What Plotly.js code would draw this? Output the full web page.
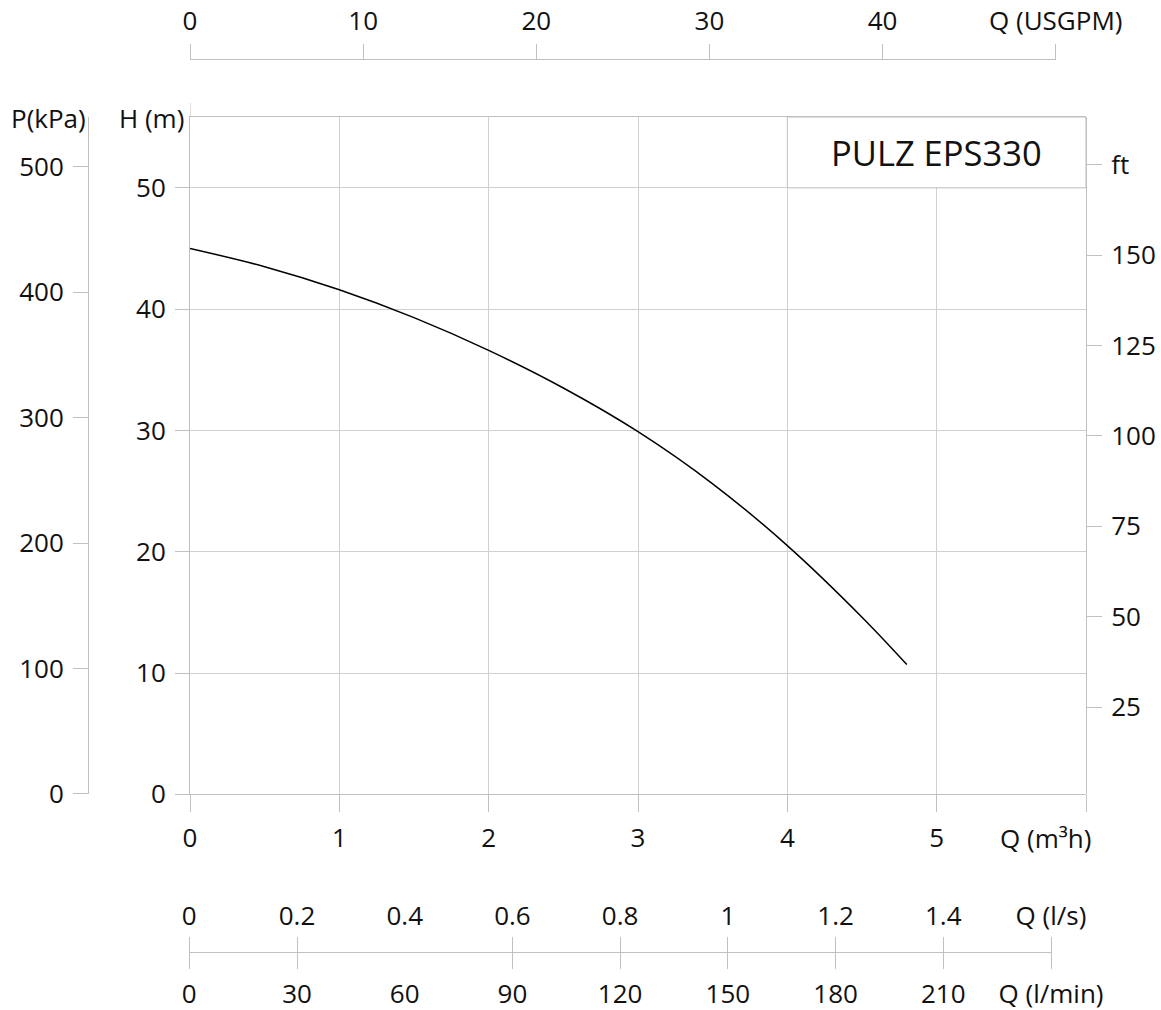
<!DOCTYPE html>
<html><head><meta charset="utf-8">
<script src="https://cdn.plot.ly/plotly-3.0.1.min.js"></script>
<style>html,body{margin:0;padding:0;background:#fff}#chart{width:1161px;height:1010px}</style>
</head><body><div id="chart"></div>
<script>
// ---- data ----
const flowM3h = [0, 0.5, 1, 1.5, 2, 2.5, 3, 3.5, 4, 4.5, 4.8];
const headM   = [45.0, 43.5, 41.6, 39.3, 36.6, 33.5, 29.9, 25.6, 20.5, 14.6, 10.7];
const m3hTicks = [0, 1, 2, 3, 4, 5, 6];
const m3hLabels = ['0', '1', '2', '3', '4', '5', ''];
const headTicks = [0, 10, 20, 30, 40, 50];
const kpaTicks = [0, 100, 200, 300, 400, 500];
const ftTicks = [25, 50, 75, 100, 125, 150, 175];
const ftLabels = ['25', '50', '75', '100', '125', '150', 'ft'];
const usgpmTicks = [0, 10, 20, 30, 40, 50];
const usgpmLabels = ['0', '10', '20', '30', '40', 'Q (USGPM)'];
const lminTicks = [0, 30, 60, 90, 120, 150, 180, 210, 240];
const lminLabels = ['0', '30', '60', '90', '120', '150', '180', '210', 'Q (l/min)'];
const lminMarks = [0, 30, 90, 120, 150, 180, 210, 240];
const lsTicks = [0, 0.2, 0.4, 0.6, 0.8, 1.0, 1.2, 1.4, 1.6];
const lsLabels = ['0', '0.2', '0.4', '0.6', '0.8', '1', '1.2', '1.4', 'Q (l/s)'];
const modelName = 'PULZ EPS330';

// ---- geometry helpers ----
const W = 1161, H = 1010;
const px = v => v / W;
const py = v => (H - v) / H;
const GRID = '#d0d0d0', LINE = '#c0c0c0', TXT = '#111111';
const FONT = 'Open Sans, sans-serif';
const yDom = [py(794.3), py(117)];
const hTop = 55.84;

const base = {showgrid: false, zeroline: false, fixedrange: true, linecolor: LINE, tickcolor: LINE, tickwidth: 1, linewidth: 1};

const layout = {
  width: W, height: H,
  margin: {l: 0, r: 0, t: 0, b: 0},
  paper_bgcolor: '#ffffff', plot_bgcolor: 'rgba(0,0,0,0)',
  showlegend: false, hovermode: false,
  font: {family: FONT, size: 26, color: TXT},
  xaxis: Object.assign({}, base, {
    domain: [px(190), px(1086)], range: [0, 6], anchor: 'y',
    tickmode: 'array', tickvals: m3hTicks, ticktext: m3hLabels,
    ticks: 'outside', ticklen: 17, showgrid: true, gridcolor: GRID,
    showline: true, mirror: true, ticklabelstandoff: 3
  }),
  yaxis: Object.assign({}, base, {
    domain: yDom, range: [0, hTop], anchor: 'x',
    tickmode: 'array', tickvals: headTicks,
    ticks: 'outside', ticklen: 14, showgrid: true, gridcolor: GRID,
    showline: true, ticklabelstandoff: 4
  }),
  yaxis2: Object.assign({}, base, {
    overlaying: 'y', anchor: 'free', position: px(1086), side: 'right',
    range: [0.85, 188.25], tickmode: 'array', tickvals: ftTicks, ticktext: ftLabels,
    ticks: 'outside', ticklen: 15, showline: true, ticklabelstandoff: 4
  }),
  yaxis3: Object.assign({}, base, {
    overlaying: 'y', anchor: 'free', position: px(88), side: 'left',
    range: [-0.4, 539.8], tickmode: 'array', tickvals: kpaTicks,
    ticks: 'outside', ticklen: 15, showline: true, ticklabelstandoff: 4
  }),
  yaxis4: Object.assign({}, base, {domain: yDom, range: [0, 1], anchor: 'free', position: 0, visible: false}),
  xaxis2: Object.assign({}, base, {
    domain: [px(190), px(1055.7)], range: [0, 50], anchor: 'free', position: py(59.3), side: 'top',
    tickmode: 'array', tickvals: usgpmTicks, ticktext: usgpmLabels,
    ticks: 'outside', ticklen: 15, showline: true, ticklabelstandoff: 4
  }),
  xaxis3: Object.assign({}, base, {
    domain: [px(189.3), px(1051)], range: [0, 240], anchor: 'free', position: py(951.7), side: 'bottom',
    tickmode: 'array', tickvals: lminTicks, ticktext: lminLabels,
    ticks: '', showline: true, ticklabelstandoff: 19
  }),
  xaxis4: Object.assign({}, base, {
    overlaying: 'x3', anchor: 'free', position: py(951.7), side: 'top',
    range: [0, 1.6], tickmode: 'array', tickvals: lsTicks, ticktext: lsLabels,
    ticks: '', showline: false, ticklabelstandoff: 22
  }),
  xaxis5: Object.assign({}, base, {
    overlaying: 'x3', anchor: 'free', position: py(935.7), side: 'bottom',
    range: [0, 240], tickmode: 'array', tickvals: lminMarks,
    ticks: 'outside', ticklen: 32, showticklabels: false, showline: false
  }),
  shapes: [
    {type: 'rect', xref: 'x', yref: 'y', x0: 4, x1: 6, y0: 50, y1: hTop,
     fillcolor: '#ffffff', line: {color: LINE, width: 1}, layer: 'above'},
    {type: 'line', xref: 'x', yref: 'paper', x0: 0, x1: 0, y0: py(117), y1: py(102.7),
     line: {color: LINE, width: 1}}
  ],
  annotations: [
    {xref: 'x', yref: 'y', x: 5, y: (50 + hTop) / 2, text: modelName, showarrow: false,
     xanchor: 'center', yanchor: 'middle', font: {family: FONT, size: 34.5, color: TXT}},
    {xref: 'paper', yref: 'paper', x: px(48), y: py(118), text: 'P(kPa)', showarrow: false,
     xanchor: 'center', yanchor: 'middle', font: {family: FONT, size: 26, color: TXT}},
    {xref: 'paper', yref: 'paper', x: px(151), y: py(118), text: 'H (m)', showarrow: false,
     xanchor: 'center', yanchor: 'middle', font: {family: FONT, size: 26, color: TXT}},
    {xref: 'paper', yref: 'paper', x: px(1093), y: py(838), text: 'Q (m³h)', showarrow: false,
     xanchor: 'right', yanchor: 'middle', font: {family: FONT, size: 26, color: TXT}}
  ]
};

const dummy = (xa, ya) => ({type: 'scatter', mode: 'lines', x: [null], y: [null], xaxis: xa, yaxis: ya, hoverinfo: 'skip', showlegend: false});

const traces = [
  dummy('x', 'y2'), dummy('x', 'y3'),
  dummy('x2', 'y4'), dummy('x3', 'y4'), dummy('x4', 'y4'), dummy('x5', 'y4'),
  {type: 'scatter', mode: 'lines', x: flowM3h, y: headM, xaxis: 'x', yaxis: 'y',
   line: {color: '#000000', width: 1.5, shape: 'spline', smoothing: 1}, hoverinfo: 'skip'}
];

Plotly.newPlot('chart', traces, layout, {staticPlot: true, displayModeBar: false});
</script>
</body></html>
